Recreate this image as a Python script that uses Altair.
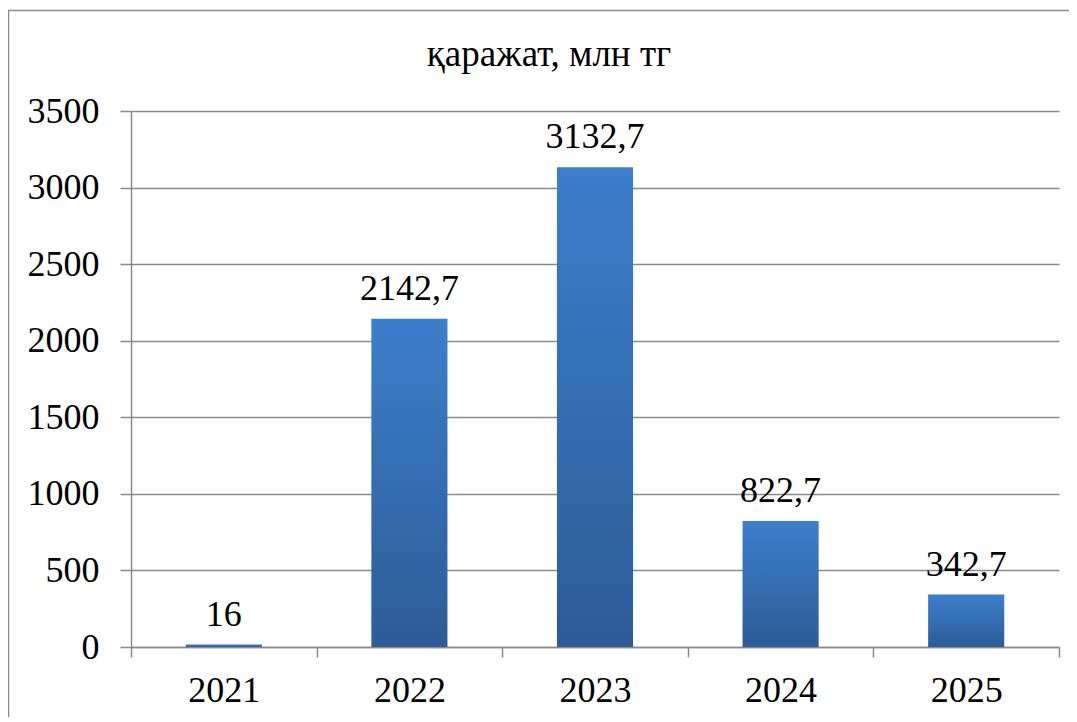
import altair as alt
import pandas as pd

years = ["2021", "2022", "2023", "2024", "2025"]
values = [16, 2142.7, 3132.7, 822.7, 342.7]
labels = ["16", "2142,7", "3132,7", "822,7", "342,7"]
y_ticks = [0, 500, 1000, 1500, 2000, 2500, 3000, 3500]
title_text = "қаражат, млн тг"

df = pd.DataFrame({"year": years, "value": values, "label": labels})

FONT = "Times New Roman, Liberation Serif, serif"
GRID = "#8a8a8a"

gradient = alt.LinearGradient(
    gradient="linear",
    stops=[alt.GradientStop(color="#3c7ecc", offset=0),
           alt.GradientStop(color="#2d5c97", offset=1)],
    x1=0, x2=0, y1=0, y2=1,
)

x_enc = alt.X("year:N", sort=years, title=None,
              scale=alt.Scale(paddingInner=0, paddingOuter=0),
              axis=alt.Axis(labelAngle=0, tickBand="extent", grid=False,
                            domainColor=GRID, domainWidth=1.5,
                            tickColor=GRID, tickWidth=1.5, tickSize=10,
                            labelPadding=16, labelFont=FONT, labelFontSize=36,
                            labelColor="black"))
y_enc = alt.Y("value:Q", title=None,
              scale=alt.Scale(domain=[0, 3500], nice=False),
              axis=alt.Axis(values=y_ticks, format="d", grid=True,
                            gridColor=GRID, gridWidth=1.5,
                            domainColor=GRID, domainWidth=1.5,
                            tickColor=GRID, tickWidth=1.5, tickSize=11,
                            labelPadding=21, labelFont=FONT, labelFontSize=36,
                            labelColor="black"))

base = alt.Chart(df)

bars = base.mark_bar(width=alt.RelativeBandSize(0.41), color=gradient).encode(
    x=x_enc, y=y_enc
)

text = base.mark_text(font=FONT, fontSize=36, color="black",
                      baseline="alphabetic", dy=-19).encode(
    x=alt.X("year:N", sort=years),
    y=alt.Y("value:Q"),
    text="label:N",
)

one = pd.DataFrame({"t": [title_text]})

border = alt.Chart(one).mark_rect(
    fill=None, stroke="#8c8c8c", strokeWidth=1.5
).encode(
    x=alt.value(-122.5), x2=alt.value(1100),
    y=alt.value(-100.5), y2=alt.value(800),
)

title = alt.Chart(one).mark_text(
    font=FONT, fontSize=37, color="black", baseline="alphabetic", align="center"
).encode(
    x=alt.value(418), y=alt.value(-45), text="t:N"
)

chart = alt.layer(border, bars, text, title).properties(
    width=928, height=536,
    padding={"left": 123, "top": 103, "right": 10, "bottom": 70},
    autosize=alt.AutoSizeParams(type="none"),
).configure_view(stroke=None)

chart.save("out.html", embed_options={"renderer": "svg", "actions": False})
